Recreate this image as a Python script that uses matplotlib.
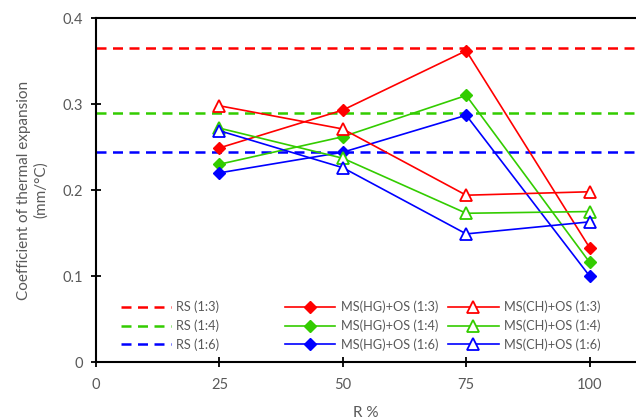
import matplotlib
matplotlib.use("Agg")
import matplotlib.pyplot as plt

plt.rcParams['font.family'] = ['Lato', 'DejaVu Sans']

# R % on the x axis
r_pct = [25, 50, 75, 100]

# reference mortars (horizontal dashed lines)
rs_labels = ["RS (1:3)", "RS (1:4)", "RS (1:6)"]
rs_values = [0.365, 0.290, 0.244]

hg_labels = ["MS(HG)+OS (1:3)", "MS(HG)+OS (1:4)", "MS(HG)+OS (1:6)"]
hg_13 = [0.249, 0.293, 0.362, 0.133]
hg_14 = [0.230, 0.262, 0.310, 0.116]
hg_16 = [0.220, 0.244, 0.287, 0.100]

ch_labels = ["MS(CH)+OS (1:3)", "MS(CH)+OS (1:4)", "MS(CH)+OS (1:6)"]
ch_13 = [0.298, 0.271, 0.194, 0.198]
ch_14 = [0.272, 0.237, 0.173, 0.175]
ch_16 = [0.269, 0.226, 0.149, 0.163]

colors = ["#FF0000", "#33CC00", "#0000FF"]
grey = "#595959"

fig = plt.figure(figsize=(6.36, 4.2), dpi=100)
ax = fig.add_axes([0.151, 0.138, 0.849, 0.819])

rs_handles, hg_handles, ch_handles = [], [], []
for lab, v, c in zip(rs_labels, rs_values, colors):
    h = ax.axhline(v, color=c, lw=1.8, ls=(0, (4, 2.6)), label=lab)
    rs_handles.append(h)

for lab, vals, c in zip(hg_labels, [hg_13, hg_14, hg_16], colors):
    h, = ax.plot(r_pct, vals, color=c, lw=1.2, marker="D", ms=6.5,
                 mfc=c, mec=c, label=lab, zorder=4)
    hg_handles.append(h)

for lab, vals, c in zip(ch_labels, [ch_13, ch_14, ch_16], colors):
    h, = ax.plot(r_pct, vals, color=c, lw=1.2, marker="^", ms=8,
                 mfc="white", mec=c, mew=1.3, label=lab, zorder=4)
    ch_handles.append(h)

ax.set_xlim(0, 109.4)
ax.set_ylim(0, 0.4)
ax.set_xticks([0, 25, 50, 75, 100])
ax.set_yticks([0, 0.1, 0.2, 0.3, 0.4])
ax.set_yticklabels(["0", "0.1", "0.2", "0.3", "0.4"])

for s in ["left", "bottom", "top"]:
    ax.spines[s].set_linewidth(1.5)
    ax.spines[s].set_color("black")
ax.spines["right"].set_visible(False)
ax.tick_params(direction="inout", length=7, width=1.3, colors="black",
               labelcolor=grey, labelsize=10.5)
ax.tick_params(axis="x", pad=8)
ax.tick_params(axis="y", pad=6)

ax.set_xlabel("R %", color=grey, fontsize=11, labelpad=10)
ax.set_ylabel("Coefficient of thermal expansion\n(mm/°C)", color=grey,
              fontsize=11, labelpad=10, linespacing=1.3)

leg_kw = dict(frameon=False, fontsize=9.2, handlelength=3.95, labelspacing=0.48,
              handletextpad=0.4, borderaxespad=0, borderpad=0, labelcolor=grey)
l1 = ax.legend(handles=rs_handles, loc="upper left",
               bbox_to_anchor=(0.046, 0.178), **leg_kw)
ax.add_artist(l1)
l2 = ax.legend(handles=hg_handles, loc="upper left",
               bbox_to_anchor=(0.35, 0.178), **leg_kw)
ax.add_artist(l2)
ax.legend(handles=ch_handles, loc="upper left",
          bbox_to_anchor=(0.652, 0.178), **leg_kw)

fig.savefig("out.png", dpi=100)
